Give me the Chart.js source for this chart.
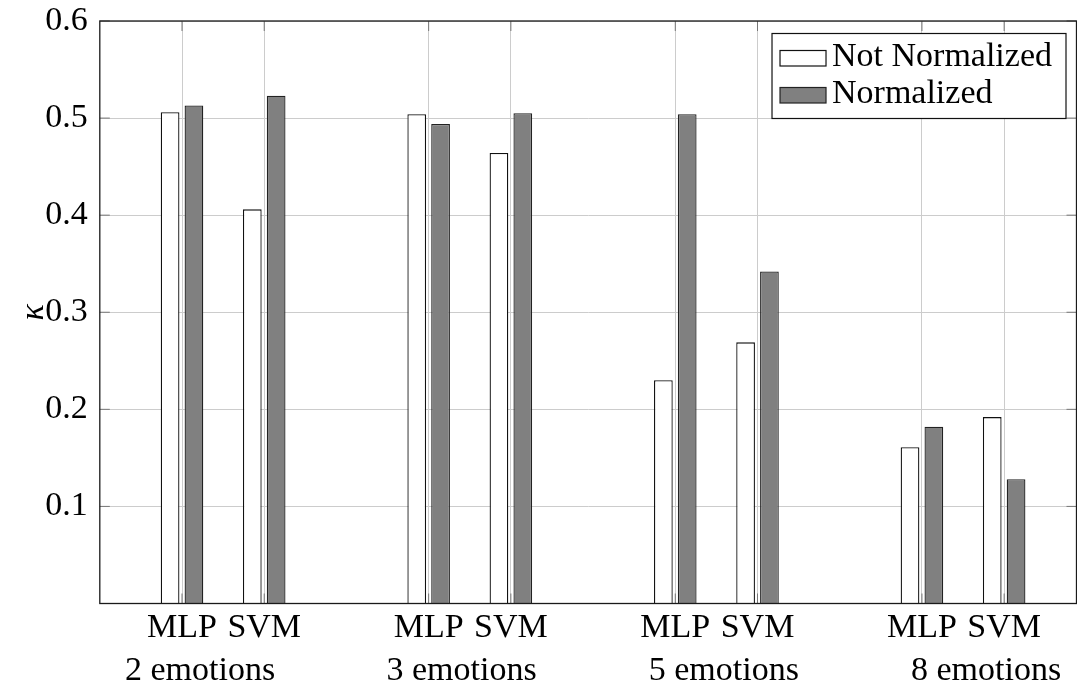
<!DOCTYPE html>
<html>
<head>
<meta charset="utf-8">
<script src="https://cdn.jsdelivr.net/npm/chart.js@4.4.1/dist/chart.umd.min.js"></script>
<style>
  html, body { margin: 0; padding: 0; background: #ffffff; }
  #wrap { width: 1077px; height: 688px; }
</style>
</head>
<body>
<div id="wrap"><canvas id="chart"></canvas></div>
<script>
// kappa scores, per group MLP then SVM
const GROUPS = ['2 emotions', '3 emotions', '5 emotions', '8 emotions'];
const MODELS = ['MLP', 'SVM'];
const NOT_NORMALIZED = [0.506, 0.406, 0.504, 0.464, 0.230, 0.269, 0.161, 0.192];
const NORMALIZED = [0.513, 0.523, 0.494, 0.505, 0.504, 0.342, 0.182, 0.128];
const Y_TICKS = [0.1, 0.2, 0.3, 0.4, 0.5, 0.6];

const SERIF = "'Liberation Serif', 'Times New Roman', serif";
const GRID = '#cccccc';

// model bars sit at 1,2 / 4,5 / 7,8 / 10,11 on the x axis
const xPos = [];
const xLabel = {};
GROUPS.forEach((g, gi) => {
    MODELS.forEach((m, mi) => {
        const x = gi * 3 + mi + 1;
        xPos.push(x);
        xLabel[x] = m;
    });
});
// where the group captions go under each pair
const GROUP_LABEL_X = [1.22, 4.40, 7.59, 10.78];

Chart.defaults.font.family = SERIF;
Chart.defaults.color = '#000000';

const frame = {
    id: 'frame',
    beforeDatasetsDraw(chart) {
        const { ctx, chartArea: a, scales } = chart;
        ctx.save();
        ctx.strokeStyle = '#777777';
        ctx.lineWidth = 1;
        ctx.beginPath();
        scales.y.ticks.forEach(t => {
            const y = scales.y.getPixelForValue(t.value);
            ctx.moveTo(a.left, y); ctx.lineTo(a.left + 10, y);
            ctx.moveTo(a.right, y); ctx.lineTo(a.right - 10, y);
        });
        scales.x.ticks.forEach(t => {
            const x = scales.x.getPixelForValue(t.value);
            ctx.moveTo(x, a.top); ctx.lineTo(x, a.top + 10);
            ctx.moveTo(x, a.bottom); ctx.lineTo(x, a.bottom - 10);
        });
        ctx.stroke();
        ctx.restore();
    },
    afterDatasetsDraw(chart) {
        const { ctx, chartArea: a } = chart;
        ctx.save();
        ctx.strokeStyle = '#1a1a1a';
        ctx.lineWidth = 1.3;
        ctx.strokeRect(a.left, a.top, a.right - a.left, a.bottom - a.top);

        // legend box, top right inside the plot
        ctx.font = '34px ' + SERIF;
        const sets = chart.data.datasets;
        const textW = Math.max(...sets.map(d => ctx.measureText(d.label).width));
        const w = 8 + 46 + 6 + textW + 14;
        const right = a.right - 10.5;
        const left = right - w;
        const top = a.top + 12.5;
        const rowH = 37;
        const h = rowH * sets.length + 11;
        ctx.fillStyle = '#ffffff';
        ctx.fillRect(left, top, w, h);
        ctx.lineWidth = 1.2;
        ctx.strokeStyle = '#111111';
        ctx.strokeRect(left, top, w, h);
        sets.forEach((d, i) => {
            const sy = top + 17 + i * rowH;
            ctx.fillStyle = d.backgroundColor;
            ctx.fillRect(left + 8, sy, 46, 15.5);
            ctx.strokeStyle = d.borderColor;
            ctx.lineWidth = 1.2;
            ctx.strokeRect(left + 8, sy, 46, 15.5);
            ctx.fillStyle = '#000000';
            ctx.textBaseline = 'alphabetic';
            ctx.fillText(d.label, left + 8 + 46 + 6, sy + 15.5);
        });
        ctx.restore();
    },
};

new Chart(document.getElementById('chart'), {
    type: 'bar',
    data: {
        datasets: [
            {
                label: 'Not Normalized',
                data: NOT_NORMALIZED.map((v, i) => ({ x: xPos[i], y: v })),
                backgroundColor: '#ffffff',
                borderColor: '#111111',
                borderWidth: 1.3,
            },
            {
                label: 'Normalized',
                data: NORMALIZED.map((v, i) => ({ x: xPos[i], y: v })),
                backgroundColor: '#808080',
                borderColor: '#222222',
                borderWidth: 1.3,
            },
        ],
    },
    options: {
        responsive: true,
        maintainAspectRatio: false,
        animation: false,
        categoryPercentage: 0.58,
        barPercentage: 0.785,
        layout: { padding: { top: 21, right: 0.5, left: 0, bottom: 0 } },
        plugins: {
            legend: { display: false },
            tooltip: { enabled: false },
        },
        scales: {
            x: {
                type: 'linear',
                position: 'bottom',
                min: 0,
                max: 11.88,
                offset: false,
                grid: { color: GRID, lineWidth: 1, drawTicks: false, offset: false },
                border: { display: false },
                afterBuildTicks: s => { s.ticks = xPos.map(v => ({ value: v })); },
                afterFit: s => { s.height = 42; s.paddingLeft = 0; s.paddingRight = 0; },
                ticks: {
                    autoSkip: false,
                    maxRotation: 0,
                    padding: 4,
                    font: { size: 34 },
                    callback: v => xLabel[v] || '',
                },
            },
            x2: {
                type: 'linear',
                position: 'bottom',
                min: 0,
                max: 11.88,
                offset: false,
                grid: { display: false, drawTicks: false },
                border: { display: false },
                afterBuildTicks: s => { s.ticks = GROUP_LABEL_X.map(v => ({ value: v })); },
                afterFit: s => { s.height = 42.5; s.paddingLeft = 0; s.paddingRight = 0; },
                ticks: {
                    autoSkip: false,
                    maxRotation: 0,
                    padding: 5,
                    font: { size: 34 },
                    callback: (v, i) => GROUPS[i],
                },
            },
            y: {
                min: 0,
                max: 0.6,
                grid: { color: GRID, lineWidth: 1, drawTicks: false },
                border: { display: false },
                afterBuildTicks: s => { s.ticks = Y_TICKS.map(v => ({ value: v })); },
                afterFit: s => { s.width = 99.8; s.paddingTop = 0; s.paddingBottom = 0; },
                ticks: {
                    padding: 12,
                    font: { size: 34 },
                    callback: v => v.toFixed(1),
                },
                title: {
                    display: true,
                    text: 'κ',
                    font: { size: 34, style: 'italic' },
                    padding: { top: 14, bottom: 0 },
                },
            },
        },
    },
    plugins: [frame],
});
</script>
</body>
</html>
